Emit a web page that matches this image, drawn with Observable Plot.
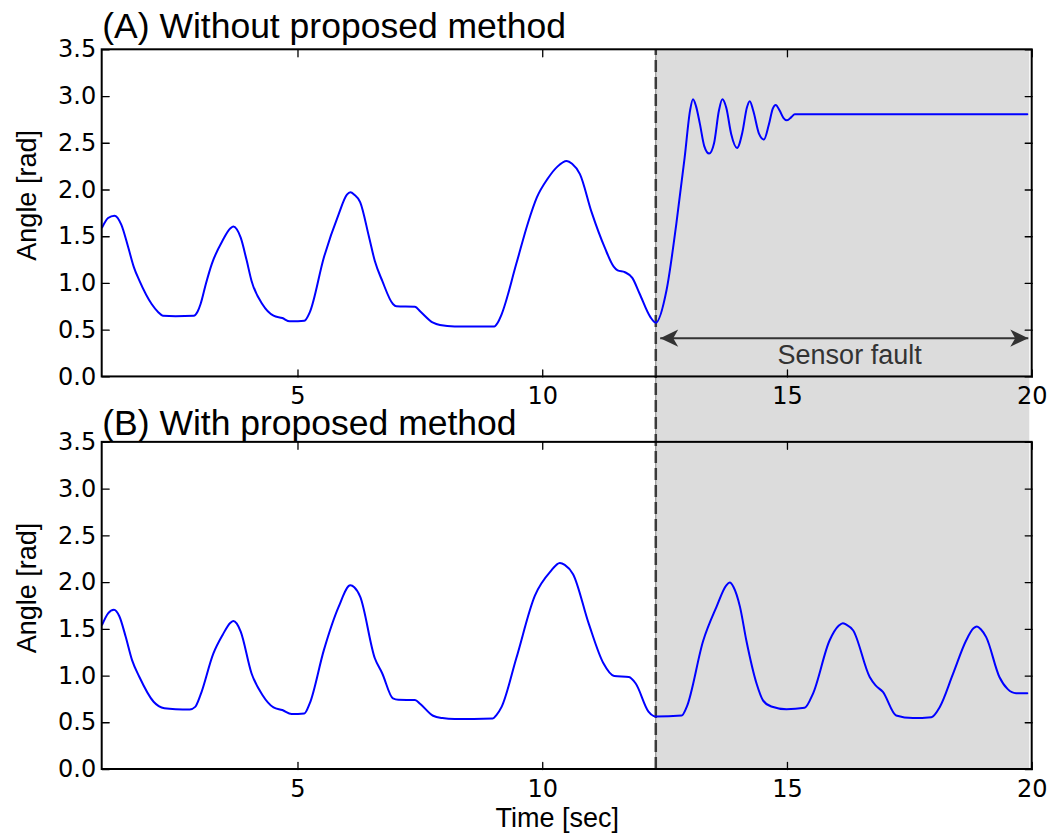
<!DOCTYPE html>
<html><head><meta charset="utf-8">
<script src="https://cdn.jsdelivr.net/npm/d3@7"></script>
<script src="https://cdn.jsdelivr.net/npm/@observablehq/plot@0.6"></script>
<style>body{margin:0;background:#fff;} #chart svg{display:block;}</style>
</head><body><div id="chart"></div>
<script>
// ---- data ----
const timeA = [1.0,1.12,1.25,1.39,1.53,1.65,1.76,2.01,2.15,2.24,2.5,2.87,2.95,3.01,3.12,3.24,3.46,3.62,3.68,3.75,3.83,3.95,4.05,4.27,4.5,4.68,4.83,5.0,5.13,5.24,5.53,5.83,6.0,6.07,6.15,6.27,6.45,6.57,6.72,6.94,7.01,7.39,7.5,7.76,7.9,8.2,9.01,9.08,9.16,9.46,9.7,9.88,10.1,10.3,10.49,10.6,10.76,11.0,11.27,11.45,11.53,11.68,11.83,11.98,12.2,12.31,
  12.53,12.73,12.9,13.01,13.07,13.13,13.21,13.3,13.4,13.5,13.6,13.67,13.75,13.85,13.97,14.08,14.17,14.23,14.3,14.42,14.52,14.62,14.7,14.76,14.84,14.92,14.99,15.08,15.15,19.9];
const angleA = [1.60,1.70,1.725,1.63,1.39,1.17,1.03,0.78,0.69,0.655,0.65,0.655,0.70,0.78,1.0,1.21,1.46,1.59,1.61,1.58,1.49,1.25,1.03,0.78,0.655,0.63,0.595,0.595,0.60,0.69,1.28,1.74,1.95,1.975,1.95,1.87,1.5,1.24,1.03,0.78,0.755,0.75,0.70,0.58,0.555,0.54,0.54,0.58,0.67,1.21,1.65,1.92,2.12,2.25,2.31,2.28,2.17,1.76,1.38,1.18,1.14,1.12,1.06,0.89,0.64,0.58,
  0.93,1.64,2.35,2.85,2.97,2.9,2.71,2.47,2.39,2.5,2.85,2.97,2.88,2.6,2.45,2.62,2.88,2.95,2.85,2.6,2.54,2.7,2.87,2.91,2.85,2.77,2.745,2.78,2.81,2.81];
const timeB = [1.0,1.12,1.24,1.35,1.48,1.61,1.76,2.05,2.27,2.5,2.79,2.9,3.01,3.27,3.46,3.62,3.68,3.75,3.83,4.05,4.27,4.5,4.68,4.87,5.13,5.24,5.53,5.83,6.07,6.15,6.27,6.57,6.72,6.94,7.05,7.39,7.5,7.76,7.95,8.2,8.98,9.05,9.16,9.46,9.84,10.16,10.35,10.45,10.62,10.94,11.24,11.46,11.76,11.9,12.16,12.27,12.31,
  12.84,12.94,13.28,13.55,13.75,13.82,13.9,14.03,14.16,14.37,14.5,14.67,14.98,15.35,15.52,15.86,16.05,16.13,16.2,16.34,16.68,16.8,16.95,17.22,17.56,17.94,18.11,18.38,18.65,18.8,18.87,18.95,19.06,19.33,19.5,19.67,19.9];
const angleB = [1.55,1.67,1.71,1.64,1.42,1.17,0.99,0.725,0.655,0.645,0.643,0.67,0.80,1.24,1.44,1.57,1.59,1.56,1.475,1.03,0.80,0.664,0.636,0.593,0.60,0.707,1.28,1.74,1.97,1.95,1.85,1.19,1.03,0.76,0.745,0.743,0.70,0.575,0.55,0.54,0.546,0.58,0.67,1.19,1.86,2.12,2.21,2.19,2.09,1.56,1.136,1.0,0.99,0.92,0.62,0.571,0.567,
  0.578,0.667,1.38,1.74,1.97,2.0,1.95,1.74,1.38,0.917,0.74,0.674,0.645,0.66,0.81,1.38,1.54,1.566,1.55,1.49,0.99,0.90,0.83,0.578,0.55,0.56,0.667,1.02,1.38,1.51,1.53,1.50,1.416,0.99,0.86,0.817,0.817];
const xTicks = [5, 10, 15, 20];
const yTicks = [0, 0.5, 1.0, 1.5, 2.0, 2.5, 3.0, 3.5];
const xDomain = [1, 20];
const yRange = [0, 3.5];
const faultStart = 12.31, faultEnd = 19.95;
const arrowStart = 12.4, arrowEnd = 19.92, arrowLevel = 0.415;
const faultLabel = "Sensor fault", faultLabelTime = 16.27, faultLabelLevel = 0.23;
const panelTitles = ["(A) Without proposed method", "(B) With proposed method"];
const yLabel = "Angle [rad]", xLabel = "Time [sec]";
const panelGap = 0.70; // vertical gap between the two panels, in angle units

// ---- derived ----
const OFFSET = yRange[1] + panelGap;
const panels = [
  {title: panelTitles[0], base: OFFSET},
  {title: panelTitles[1], base: 0}
];
const lineA = timeA.map((t, i) => ({t, y: angleA[i] + OFFSET}));
const lineB = timeB.map((t, i) => ({t, y: angleB[i]}));
const yTickRows = panels.flatMap(p => yTicks.map(v => ({v, y: v + p.base})));
const xTickRows = panels.flatMap(p => xTicks.map(t => ({t, yb: p.base + yRange[0], yt: p.base + yRange[1]})));

const tickShape = {draw(ctx, l) { ctx.moveTo(0, 0); ctx.lineTo(0, -l); }};
const headSymbol = {draw(ctx, size) {
  const s = Math.sqrt(size / Math.PI);
  ctx.moveTo(0, 0);
  ctx.lineTo(-2 * s, -0.95 * s);
  ctx.lineTo(-1.45 * s, 0);
  ctx.lineTo(-2 * s, 0.95 * s);
  ctx.closePath();
}};

const SANS = "Liberation Sans, Arial, Helvetica, sans-serif";
const TICKFONT = "DejaVu Sans, sans-serif";

const chart = Plot.plot({
  width: 1057, height: 834,
  marginLeft: 101.7, marginRight: 25.3, marginTop: 49.3, marginBottom: 65,
  x: {domain: xDomain, axis: null},
  y: {domain: [0, OFFSET + yRange[1]], axis: null},
  style: {background: "white"},
  marks: [
    Plot.rect([0], {x1: faultStart, x2: faultEnd, y1: yRange[0], y2: OFFSET + yRange[1], fill: "#dcdcdc"}),
    Plot.ruleX([faultStart], {y1: yRange[0], y2: OFFSET + yRange[1], stroke: "#888", strokeWidth: 1}),
    Plot.ruleX([faultStart], {y1: yRange[0], y2: OFFSET + yRange[1], stroke: "#3a3a3a", strokeWidth: 2.5, strokeDasharray: "12,5"}),
    Plot.line(lineA, {x: "t", y: "y", stroke: "blue", strokeWidth: 2, curve: "monotone-x"}),
    Plot.line(lineB, {x: "t", y: "y", stroke: "blue", strokeWidth: 2, curve: "monotone-x"}),
    Plot.rect(panels, {x1: xDomain[0], x2: xDomain[1], y1: d => d.base + yRange[0], y2: d => d.base + yRange[1], fill: "none", stroke: "black", strokeWidth: 2}),
    // inward ticks
    Plot.vector(yTickRows, {y: "y", frameAnchor: "left", rotate: 90, length: 7, anchor: "start", shape: tickShape, stroke: "black", strokeWidth: 1.3}),
    Plot.vector(yTickRows, {y: "y", frameAnchor: "right", rotate: -90, length: 7, anchor: "start", shape: tickShape, stroke: "black", strokeWidth: 1.3}),
    Plot.vector(xTickRows, {x: "t", y: "yb", rotate: 0, length: 7, anchor: "start", shape: tickShape, stroke: "black", strokeWidth: 1.3}),
    Plot.vector(xTickRows, {x: "t", y: "yt", rotate: 180, length: 7, anchor: "start", shape: tickShape, stroke: "black", strokeWidth: 1.3}),
    // tick labels
    Plot.text(yTickRows, {y: "y", text: d => d.v.toFixed(1), frameAnchor: "left", textAnchor: "end", dx: -6, fontSize: 24, fontFamily: TICKFONT, fill: "black"}),
    Plot.text(xTickRows, {x: "t", y: "yb", text: d => String(d.t), lineAnchor: "top", dy: 10, fontSize: 24, fontFamily: TICKFONT, fill: "black"}),
    // titles
    Plot.text([panels[0]], {x: xDomain[0], y: d => d.base + yRange[1], text: "title", textAnchor: "start", lineAnchor: "bottom", dx: 0, dy: -12, fontSize: 35.5, fontFamily: SANS, fill: "black"}),
    Plot.text([panels[1]], {x: xDomain[0], y: d => d.base + yRange[1], text: "title", textAnchor: "start", lineAnchor: "bottom", dx: 0, dy: -7, fontSize: 35.5, fontFamily: SANS, fill: "black"}),
    // axis labels
    Plot.text(panels, {y: d => d.base + (yRange[0] + yRange[1]) / 2, text: () => yLabel, frameAnchor: "left", textAnchor: "middle", rotate: -90, lineAnchor: "bottom", dx: -66, dy: -18, fontSize: 27, fontFamily: SANS, fill: "black"}),
    Plot.text([0], {frameAnchor: "bottom", text: () => xLabel, textAnchor: "middle", lineAnchor: "bottom", dy: 57, dx: -10, fontSize: 27, fontFamily: SANS, fill: "black"}),
    // sensor fault annotation
    Plot.link([0], {x1: arrowStart, x2: arrowEnd, y1: OFFSET + arrowLevel, y2: OFFSET + arrowLevel, stroke: "#333", strokeWidth: 2}),
    Plot.dot([{t: arrowStart, rot: 180}, {t: arrowEnd, rot: 0}], {x: "t", y: () => OFFSET + arrowLevel, rotate: "rot", symbol: headSymbol, r: 9, fill: "#333", stroke: "none"}),
    Plot.text([0], {x: faultLabelTime, y: OFFSET + faultLabelLevel, text: () => faultLabel, fontSize: 27, fontFamily: SANS, fill: "#333"})
  ]
});
document.getElementById("chart").append(chart);
</script>
</body></html>
